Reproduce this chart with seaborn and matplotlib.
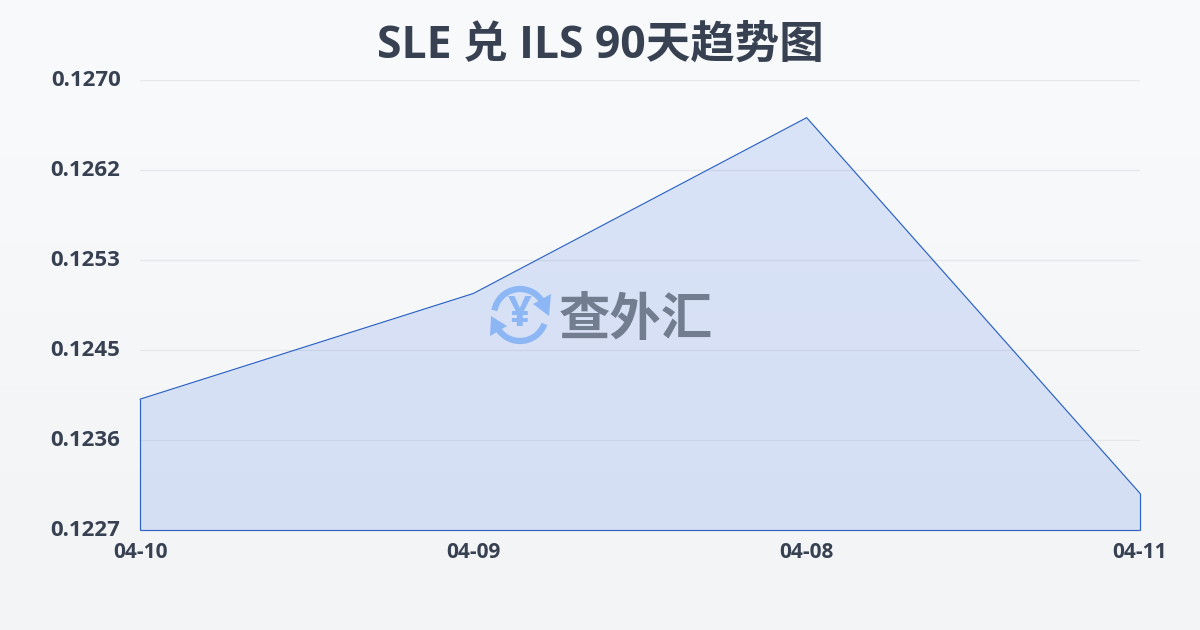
import numpy as np
import pandas as pd
import matplotlib
matplotlib.use("Agg")
import matplotlib.pyplot as plt
from matplotlib.patches import Arc, Polygon
from matplotlib.transforms import ScaledTranslation
import seaborn as sns

dates = ["04-10", "04-09", "04-08", "04-11"]
rates = [0.12395, 0.12496, 0.12664, 0.12305]
y_ticks = [0.1227, 0.12356, 0.12442, 0.12528, 0.12614, 0.1270]
y_labels = ["0.1227", "0.1236", "0.1245", "0.1253", "0.1262", "0.1270"]
title = "SLE 兑 ILS 90天趋势图"
watermark = "查外汇"

sns.set_theme(style="white")
plt.rcParams["font.family"] = ["Open Sans", "Noto Sans CJK SC", "DejaVu Sans"]
INK = "#374151"
LINE = "#2b62c4"

fig = plt.figure(figsize=(12, 6.3), dpi=100)

# page background: vertical gradient
bg = fig.add_axes([0, 0, 1, 1], zorder=0)
bg.imshow(np.array([[0.0], [1.0]]), aspect="auto", extent=[0, 1200, 630, 0],
          cmap=matplotlib.colors.LinearSegmentedColormap.from_list("bg", ["#f8fafc", "#f3f4f6"]),
          interpolation="bicubic")
bg.set_xlim(0, 1200)
bg.set_ylim(630, 0)
bg.axis("off")

ax = fig.add_axes([140 / 1200, 1 - 530 / 630, 1000 / 1200, 450 / 630], zorder=1)
ax.patch.set_alpha(0)
df = pd.DataFrame({"pos": range(len(dates)), "rate": rates})

for t in y_ticks[1:]:
    ax.axhline(t, color="#e5e7eb", lw=0.9, zorder=1)

ax.fill_between(df["pos"], rates, y_ticks[0], color="#3068e4", alpha=0.15, lw=0, zorder=2)
sns.lineplot(data=df, x="pos", y="rate", ax=ax, color=LINE, lw=0.85, zorder=4, clip_on=False)
ax.vlines([df["pos"].iloc[0], df["pos"].iloc[-1]], y_ticks[0], [rates[0], rates[-1]],
          color=LINE, lw=0.85, zorder=4, clip_on=False)
ax.hlines(y_ticks[0], df["pos"].iloc[0], df["pos"].iloc[-1], color=LINE, lw=0.85, zorder=4, clip_on=False)

ax.set_xlim(0, len(dates) - 1)
ax.set_ylim(y_ticks[0], y_ticks[-1])
ax.set_xticks(df["pos"], dates)
ax.set_yticks(y_ticks, y_labels)
ax.set_xlabel("")
ax.set_ylabel("")
ax.tick_params(axis="x", length=0, pad=9, labelsize=15, labelcolor=INK)
ax.tick_params(axis="y", length=0, pad=14, labelsize=16, labelcolor=INK)
for lab in ax.get_xticklabels() + ax.get_yticklabels():
    lab.set_fontweight("bold")
for lab in ax.get_yticklabels():
    lab.set_transform(lab.get_transform() + ScaledTranslation(0, 1.5 / 100, fig.dpi_scale_trans))
for s in ax.spines.values():
    s.set_visible(False)

fig.text(0.5, 1 - 46 / 630, title, ha="center", va="center", fontsize=32, fontweight="bold", color=INK)

# watermark overlay in pixel coordinates
ov = fig.add_axes([0, 0, 1, 1], zorder=5)
ov.set_xlim(0, 1200)
ov.set_ylim(630, 0)
ov.axis("off")
BLUE = "#8db6f5"
cx, cy, r = 520, 315, 26
ov.add_patch(Arc((cx, cy), 2 * r, 2 * r, theta1=190, theta2=335, color=BLUE, lw=4.5))
ov.add_patch(Arc((cx, cy), 2 * r, 2 * r, theta1=20, theta2=155, color=BLUE, lw=4.5))
ov.add_patch(Polygon([[551, 294], [549, 316], [533, 304]], color=BLUE, lw=0))
ov.add_patch(Polygon([[490, 336], [491, 316], [507, 326]], color=BLUE, lw=0))
ov.text(cx, cy, "¥", ha="center", va="center", fontsize=30, fontweight="bold", color=BLUE)
ov.text(636, 319, watermark, ha="center", va="center", fontsize=37, fontweight="bold", color="#737d90",
        family=["Noto Sans CJK SC", "DejaVu Sans"])

fig.savefig("out.png", dpi=100)
